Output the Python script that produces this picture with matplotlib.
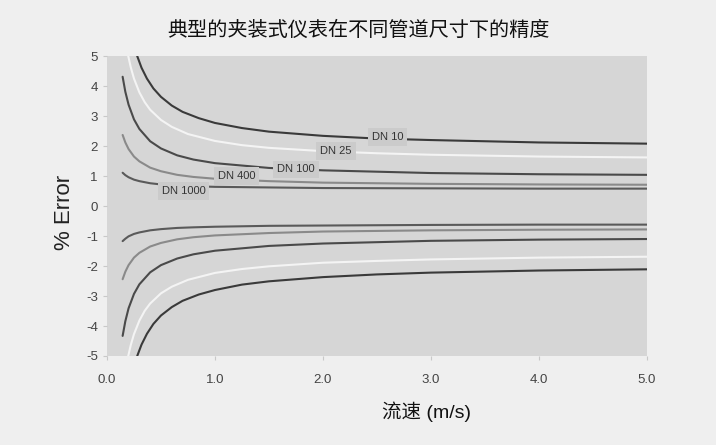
import matplotlib
matplotlib.use("Agg")
import matplotlib.pyplot as plt

plt.rcParams['font.family'] = ['Liberation Sans', 'Noto Sans CJK SC', 'DejaVu Sans']
plt.rcParams['axes.unicode_minus'] = False

title = '典型的夹装式仪表在不同管道尺寸下的精度'
xlabel = '流速 (m/s)'
ylabel = '% Error'

# values, (velocity m/s, % error)
dn10_v = [0.28, 0.32, 0.37, 0.43, 0.5, 0.6, 0.7, 0.85, 1.0, 1.25, 1.5, 2.0, 2.5, 3.0, 4.0, 5.0]
dn10_hi = [5.00, 4.61, 4.25, 3.92, 3.64, 3.35, 3.14, 2.93, 2.77, 2.60, 2.48, 2.34, 2.25, 2.20, 2.12, 2.08]
dn10_lo = [-5.00, -4.62, -4.26, -3.93, -3.65, -3.37, -3.16, -2.95, -2.80, -2.62, -2.51, -2.37, -2.28, -2.22, -2.15, -2.11]

dn25_v = [0.197, 0.22, 0.25, 0.3, 0.35, 0.4, 0.5, 0.6, 0.75, 1.0, 1.25, 1.5, 2.0, 2.5, 3.0, 4.0, 5.0]
dn25_hi = [5.00, 4.63, 4.25, 3.79, 3.46, 3.21, 2.87, 2.64, 2.40, 2.17, 2.03, 1.94, 1.83, 1.76, 1.71, 1.65, 1.62]
dn25_lo = [-5.00, -4.64, -4.27, -3.82, -3.49, -3.25, -2.91, -2.69, -2.46, -2.23, -2.10, -2.01, -1.89, -1.83, -1.78, -1.72, -1.69]

small_v = [0.145, 0.17, 0.2, 0.25, 0.3, 0.4, 0.5, 0.65, 0.8, 1.0, 1.5, 2.0, 3.0, 4.0, 5.0]
dn100_hi = [4.31, 3.81, 3.38, 2.89, 2.57, 2.16, 1.92, 1.69, 1.55, 1.43, 1.27, 1.19, 1.10, 1.06, 1.04]
dn100_lo = [-4.33, -3.84, -3.41, -2.93, -2.61, -2.21, -1.97, -1.75, -1.61, -1.49, -1.33, -1.25, -1.16, -1.12, -1.10]
dn400_hi = [2.37, 2.12, 1.90, 1.65, 1.49, 1.28, 1.16, 1.04, 0.97, 0.91, 0.83, 0.78, 0.74, 0.72, 0.71]
dn400_lo = [-2.44, -2.19, -1.97, -1.72, -1.56, -1.35, -1.23, -1.11, -1.04, -0.98, -0.90, -0.85, -0.81, -0.79, -0.78]
dn1000_hi = [1.11, 1.03, 0.96, 0.88, 0.83, 0.76, 0.72, 0.69, 0.66, 0.64, 0.62, 0.60, 0.59, 0.58, 0.58]
dn1000_lo = [-1.17, -1.09, -1.01, -0.93, -0.88, -0.81, -0.77, -0.73, -0.71, -0.69, -0.66, -0.65, -0.63, -0.62, -0.62]

labels = ['DN 10', 'DN 25', 'DN 100', 'DN 400', 'DN 1000']
label_x = [2.60, 2.12, 1.75, 1.20, 0.71]
label_y = [2.29, 1.84, 1.22, 1.00, 0.49]

xticks = [0, 1, 2, 3, 4, 5]
xticklabels = ['0.0', '1.0', '2.0', '3.0', '4.0', '5.0']
yticks = [-5, -4, -3, -2, -1, 0, 1, 2, 3, 4, 5]

fig = plt.figure(figsize=(7.16, 4.45), dpi=100, facecolor='#efefef')
ax = fig.add_axes([0.1494, 0.2, 0.7542, 0.674])
ax.set_facecolor('#d6d6d6')

lines = [
    (dn10_v, dn10_hi, dn10_lo, '#3a3a3a'),
    (dn25_v, dn25_hi, dn25_lo, '#f4f4f4'),
    (small_v, dn100_hi, dn100_lo, '#4a4a4a'),
    (small_v, dn400_hi, dn400_lo, '#8a8a8a'),
    (small_v, dn1000_hi, dn1000_lo, '#5a5a5a'),
]
for v, hi, lo, c in lines:
    ax.plot(v, hi, color=c, lw=1.5, solid_capstyle='round')
    ax.plot(v, lo, color=c, lw=1.5, solid_capstyle='round')

for t, x, y in zip(labels, label_x, label_y):
    ax.text(x, y, t, fontsize=8, color='#333333', ha='center', va='center',
            bbox=dict(boxstyle='square,pad=0.35', fc='#cbcbcb', ec='none'))

ax.set_xlim(0, 5)
ax.set_ylim(-5, 5)
ax.set_xticks(xticks)
ax.set_xticklabels(xticklabels)
ax.set_yticks(yticks)
for s in ax.spines.values():
    s.set_visible(False)
ax.tick_params(axis='both', colors='#c8c8c8', labelcolor='#444444', labelsize=9.5, length=3)
ax.tick_params(axis='x', pad=10)

fig.text(0.5, 1 - 30 / 445, title, ha='center', va='center', fontsize=14.5,
         family=['Noto Sans CJK SC', 'DejaVu Sans'], color='#111111')
fig.text(427 / 716, 1 - 412 / 445, xlabel, ha='center', va='center', fontsize=14, color='#111111')
fig.text(65 / 716, 1 - 212 / 445, ylabel, ha='center', va='center', fontsize=16,
         rotation=90, color='#222222')

fig.savefig('out.png', dpi=100, facecolor=fig.get_facecolor())
